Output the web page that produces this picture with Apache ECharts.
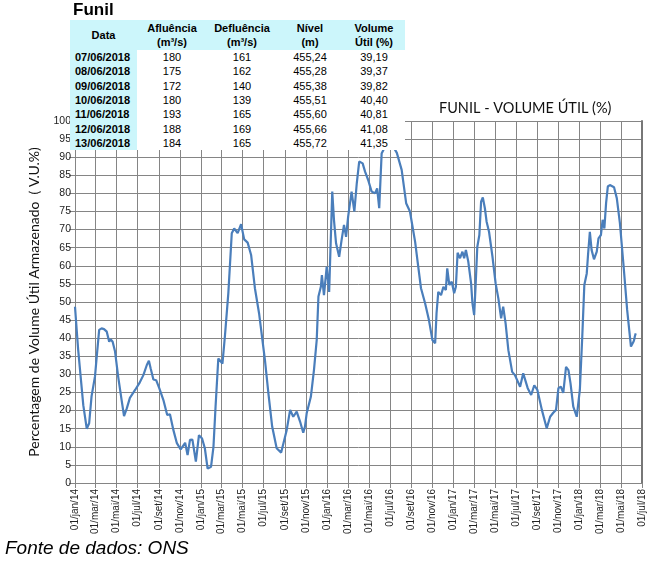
<!DOCTYPE html>
<html>
<head>
<meta charset="utf-8">
<script src="https://cdn.jsdelivr.net/npm/echarts@6/dist/echarts.min.js"></script>
<style>
  html, body { margin: 0; padding: 0; background: #fff; }
  #wrap { position: relative; width: 666px; height: 564px; }
  #chart { position: absolute; left: 0; top: 0; width: 666px; height: 564px; }
  #titulo { position: absolute; left: 73px; top: 0px; font: bold 17px 'Liberation Sans', Arial, sans-serif; }
  #tabela { position: absolute; left: 70px; top: 20px; border-collapse: collapse; table-layout: fixed;
    font-family: 'Liberation Sans', Arial, sans-serif; font-size: 11px; background: #fff; }
  #tabela td, #tabela th { padding: 0; text-align: center; white-space: nowrap; }
  #tabela th { background: #ccf6fb; font-weight: bold; height: 30px; line-height: 14px; }
  #tabela td { height: 14.3px; line-height: 14px; }
  #tabela td.dt { background: #ccf6fb; font-weight: bold; text-align: left; padding-left: 5px; }
  #fonte { position: absolute; left: 5px; top: 537px; font: italic 19px 'Liberation Sans', Arial, sans-serif; }
</style>
</head>
<body>
<div id="wrap">
  <div id="chart"></div>
  <div id="titulo">Funil</div>
  <table id="tabela"></table>
  <div id="fonte">Fonte de dados: ONS</div>
</div>
<script>
// tabela do boletim
const cabecalho = ['Data', 'Afluência<br>(m³/s)', 'Defluência<br>(m³/s)', 'Nível<br>(m)', 'Volume<br>Útil (%)']
const larguras = [67, 70, 70, 66, 62]
const tabDatas = ['07/06/2018', '08/06/2018', '09/06/2018', '10/06/2018', '11/06/2018', '12/06/2018', '13/06/2018']
const afluencia = [180, 175, 172, 180, 193, 188, 184]
const defluencia = [161, 162, 140, 139, 165, 169, 165]
const nivel = ['455,24', '455,28', '455,38', '455,51', '455,60', '455,66', '455,72']
const volUtil = ['39,19', '39,37', '39,82', '40,40', '40,81', '41,08', '41,35']

// serie historica do volume util (%)
const datas = [
  '2014-01-01', '2014-01-10', '2014-01-25', '2014-02-04', '2014-02-11', '2014-02-18', '2014-02-28', '2014-03-05', '2014-03-12', '2014-03-19',
  '2014-03-26', '2014-04-03', '2014-04-10', '2014-04-14', '2014-04-20', '2014-04-27', '2014-05-06', '2014-05-16', '2014-05-23', '2014-05-31',
  '2014-06-09', '2014-06-24', '2014-07-06', '2014-07-18', '2014-07-28', '2014-08-03', '2014-08-08', '2014-08-16', '2014-08-24', '2014-09-02',
  '2014-09-14', '2014-09-25', '2014-10-03', '2014-10-13', '2014-10-23', '2014-11-03', '2014-11-16', '2014-11-23', '2014-11-30', '2014-12-07',
  '2014-12-17', '2014-12-26',
  '2015-01-04', '2015-01-12', '2015-01-20', '2015-01-30', '2015-02-06', '2015-02-12', '2015-02-20', '2015-03-04', '2015-03-11', '2015-03-21',
  '2015-03-31', '2015-04-07', '2015-04-17', '2015-04-27', '2015-05-06', '2015-05-16', '2015-05-26', '2015-06-06', '2015-06-18', '2015-07-05',
  '2015-07-15', '2015-07-26', '2015-08-08', '2015-08-21', '2015-08-30', '2015-09-06', '2015-09-16', '2015-09-25', '2015-10-05', '2015-10-15',
  '2015-10-24', '2015-10-29', '2015-11-03', '2015-11-15', '2015-11-24', '2015-12-02', '2015-12-07', '2015-12-14', '2015-12-17', '2015-12-23',
  '2015-12-31',
  '2016-01-07', '2016-01-16', '2016-01-21', '2016-01-27', '2016-02-05', '2016-02-12', '2016-02-19', '2016-02-25', '2016-03-02', '2016-03-12',
  '2016-03-20', '2016-03-27', '2016-04-03', '2016-04-13', '2016-04-20', '2016-04-29', '2016-05-09', '2016-05-19', '2016-05-25', '2016-05-31',
  '2016-06-07', '2016-06-28', '2016-07-21', '2016-08-04', '2016-08-17', '2016-08-28', '2016-09-12', '2016-09-21', '2016-09-29', '2016-10-11',
  '2016-10-22', '2016-11-01', '2016-11-09', '2016-11-13', '2016-11-18', '2016-11-26', '2016-12-03', '2016-12-10', '2016-12-14', '2016-12-20',
  '2016-12-27',
  '2017-01-03', '2017-01-08', '2017-01-13', '2017-01-20', '2017-01-27', '2017-02-01', '2017-02-06', '2017-02-13', '2017-02-21', '2017-02-25',
  '2017-03-02', '2017-03-06', '2017-03-11', '2017-03-17', '2017-03-22', '2017-03-27', '2017-04-02', '2017-04-07', '2017-04-14', '2017-04-24',
  '2017-05-03', '2017-05-11', '2017-05-19', '2017-05-25', '2017-06-01', '2017-06-09', '2017-06-20', '2017-06-28', '2017-07-03', '2017-07-13',
  '2017-07-22', '2017-08-04', '2017-08-14', '2017-08-23', '2017-09-01', '2017-09-14', '2017-09-28', '2017-10-08', '2017-10-17', '2017-10-25',
  '2017-11-01', '2017-11-08', '2017-11-15', '2017-11-23', '2017-11-30', '2017-12-06', '2017-12-14', '2017-12-24',
  '2018-01-02', '2018-01-09', '2018-01-15', '2018-01-22', '2018-01-26', '2018-01-31', '2018-02-05', '2018-02-12', '2018-02-20', '2018-02-25',
  '2018-03-04', '2018-03-09', '2018-03-14', '2018-03-19', '2018-03-24', '2018-03-30', '2018-04-04', '2018-04-11', '2018-04-19', '2018-04-28',
  '2018-05-08', '2018-05-19', '2018-05-30', '2018-06-03',
  '2018-06-07', '2018-06-08', '2018-06-09', '2018-06-10', '2018-06-11', '2018-06-12', '2018-06-13'
]
const volume = [
  48.7, 37, 21.5, 15.0, 16.5, 24, 29.5, 35, 42.3, 42.7,
  42.5, 41.8, 39, 39.7, 39, 36.3, 29.4, 22.9, 18.5, 20.6,
  23.5, 25.7, 27.5, 29.8, 32.6, 33.8, 31.7, 28.6, 28.4, 26.2,
  22.9, 18.8, 19, 14.6, 11, 9.3, 11.1, 7.7, 11.9, 12,
  5.9, 13.2,
  12.3, 9.6, 4.0, 4.5, 10, 21, 34.4, 33, 40.4, 52.4,
  69, 70.3, 69, 71.5, 67.3, 66.4, 63, 53.8, 46.9, 34,
  24.8, 15.6, 9.6, 8.4, 11.9, 14.6, 20.2, 18.3, 19.7, 16.9,
  13.9, 15.6, 19.3, 23.8, 31.2, 39.5, 51.5, 54.2, 57.4, 51.9,
  59.8,
  52.8, 80.5, 72.6, 66.2, 62.5, 67.1, 71.3, 68, 73.6, 80.5,
  75, 82.8, 88.8, 88.3, 86, 83.7, 80.5, 80, 81.4, 75.9,
  91, 95, 91.2, 86.5, 77.3, 75, 66.6, 59.8, 53.8, 49.6,
  45, 39.5, 38.6, 46.9, 52.8, 51.9, 54.2, 53.3, 59.3, 54.7,
  55.6,
  52.4, 54.2, 63.6, 62.1, 63.9, 62.1, 64.4, 61.1, 55.2, 49.6,
  46.4, 54.2, 65.2, 68.5, 77.7, 78.9, 75.9, 72.2, 69.4, 62.5,
  55.2, 51, 45.5, 48.7, 44.1, 36.7, 30.7, 29.8, 30.3, 26.6,
  30.3, 26.2, 24.3, 27, 25.7, 20.2, 15.1, 18.3, 19.4, 20.2,
  26.2, 26.6, 24.9, 32.1, 31.2, 27.5, 21.1, 18.3,
  25.7, 40.4, 54.7, 57.9, 63.4, 69.4, 64.4, 61.8, 63.9, 67.6,
  68.5, 72.7, 70.3, 77.3, 81.9, 82.3, 82.8, 81.7, 78.7, 71.8,
  60.7, 47.8, 37.7, 38.2,
  39.19, 39.37, 39.82, 40.40, 40.81, 41.08, 41.35
]
const meses = ['jan', 'fev', 'mar', 'abr', 'mai', 'jun', 'jul', 'ago', 'set', 'out', 'nov', 'dez']

// monta a tabela
let html = '<colgroup>' + larguras.map(w => '<col style="width:' + w + 'px">').join('') + '</colgroup>'
html += '<tr>' + cabecalho.map(c => '<th>' + c + '</th>').join('') + '</tr>'
tabDatas.forEach((d, i) => {
  html += '<tr><td class="dt">' + d + '</td><td>' + afluencia[i] + '</td><td>' + defluencia[i] +
    '</td><td>' + nivel[i] + '</td><td>' + volUtil[i] + '</td></tr>'
})
document.getElementById('tabela').innerHTML = html

const DIA = 24 * 3600 * 1000
const cinza = '#858585'

const chart = echarts.init(document.getElementById('chart'))
chart.setOption({
  backgroundColor: '#fff',
  animation: false,
  title: {
    text: 'FUNIL - VOLUME ÚTIL (%)',
    left: 434,
    top: 96,
    textStyle: { fontFamily: 'Lato', fontSize: 14.5, fontWeight: 'normal', color: '#111' }
  },
  grid: { left: 75, right: 24, top: 121, bottom: 81 },
  xAxis: {
    type: 'time',
    min: '2014-01-01',
    max: '2018-07-01',
    minInterval: 61 * DIA,
    maxInterval: 61 * DIA,
    axisLine: { lineStyle: { color: cinza } },
    axisTick: { show: true, length: 5, lineStyle: { color: cinza } },
    splitLine: { show: true, lineStyle: { color: cinza, width: 1 } },
    axisLabel: {
      rotate: 90,
      fontSize: 10,
      fontFamily: 'Liberation Sans',
      color: '#222',
      margin: 6,
      hideOverlap: false,
      showMinLabel: true,
      showMaxLabel: true,
      formatter: function (v) {
        const d = new Date(v)
        return '01/' + meses[d.getMonth()] + '/' + String(d.getFullYear()).slice(2)
      }
    }
  },
  yAxis: [
    {
      type: 'value',
      min: 0,
      max: 100,
      interval: 5,
      name: 'Percentagem de Volume Útil Armazenado  ( V.U.%)',
      nameLocation: 'middle',
      nameGap: 34,
      nameTextStyle: { fontFamily: 'Lato', fontSize: 14, color: '#111' },
      axisLine: { show: true, lineStyle: { color: cinza } },
      axisTick: { show: true, length: 6, lineStyle: { color: cinza } },
      splitLine: { lineStyle: { color: cinza, width: 1 } },
      axisLabel: { fontSize: 10.5, fontFamily: 'Liberation Sans', color: '#222', margin: 4 }
    },
    {
      type: 'value',
      min: 0,
      max: 100,
      position: 'right',
      axisLine: { show: true, lineStyle: { color: '#777', width: 2 } },
      axisTick: { show: false },
      axisLabel: { show: false },
      splitLine: { show: false }
    }
  ],
  series: [
    {
      type: 'line',
      data: datas.map((d, i) => [d, volume[i]]),
      showSymbol: false,
      lineStyle: { color: '#4a7ebb', width: 2.2 },
      itemStyle: { color: '#4a7ebb' }
    }
  ]
})
</script>
</body>
</html>
